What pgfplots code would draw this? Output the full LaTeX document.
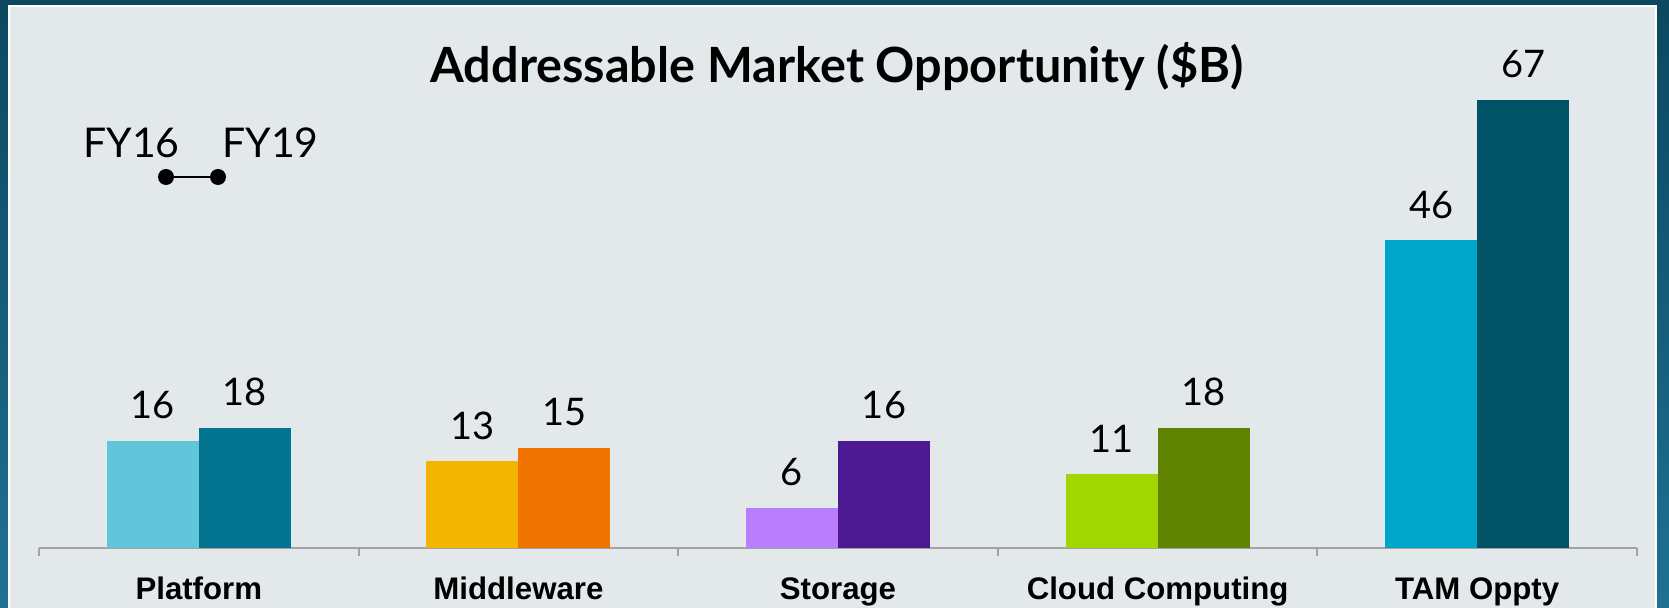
\documentclass[border=0pt]{standalone}
\usepackage{pgfplots}
\pgfplotsset{compat=1.18}
\usepackage{fontspec}
\setmainfont{Lato}
\newfontfamily\tickfont{Liberation Sans}
\definecolor{frameTop}{HTML}{0B4860}
\definecolor{frameBot}{HTML}{1F7192}
\definecolor{panel}{HTML}{E3E9EB}
\definecolor{axisgrey}{HTML}{A3A3A3}
\definecolor{platA}{HTML}{62C6DB}
\definecolor{platB}{HTML}{027490}
\definecolor{midA}{HTML}{F3B600}
\definecolor{midB}{HTML}{F07300}
\definecolor{stoA}{HTML}{B87EFB}
\definecolor{stoB}{HTML}{4E1A93}
\definecolor{cloA}{HTML}{A2D600}
\definecolor{cloB}{HTML}{5F8200}
\definecolor{tamA}{HTML}{00A6CA}
\definecolor{tamB}{HTML}{005266}
\begin{document}
\begin{tikzpicture}[x=1pt,y=1pt]
\useasboundingbox (0,0) rectangle (834.5,304);
\shade[top color=frameTop, bottom color=frameBot] (0,0) rectangle (834.5,304);
\fill[panel] (4,0) rectangle (828.5,301.5);
\draw[white, line width=0.8pt] (4.4,-1) -- (4.4,301.1) -- (828.1,301.1) -- (828.1,-1);
\node[anchor=base, font=\bfseries\fontsize{24.3}{24.3}\selectfont] at (418.5,262.5) {Addressable Market Opportunity (\$B)};
% legend
\node[anchor=base west, inner sep=0pt, font=\fontsize{20.5}{20.5}\selectfont] at (41.5,225) {FY16};
\node[anchor=base west, inner sep=0pt, font=\fontsize{20.5}{20.5}\selectfont] at (111,225) {FY19};
\draw[black, line width=0.8pt] (83,215.5) -- (109,215.5);
\fill[black] (83,215.5) circle (4);
\fill[black] (109,215.5) circle (4);
\begin{axis}[
  at={(19.5pt,30pt)}, anchor=south west,
  scale only axis, width=799pt, height=234.15pt,
  xmin=-0.5, xmax=4.5, ymin=0, ymax=70,
  axis x line*=bottom, axis y line=none,
  xtick={0,1,2,3,4},
  xticklabels={Platform,Middleware,Storage,Cloud Computing,TAM Oppty},
  major tick length=0pt,
  minor xtick={-0.5,0.5,1.5,2.5,3.5,4.5},
  minor tick length=4pt, tick align=outside,
  every minor tick/.append style={draw=axisgrey, line width=1pt},
  x axis line style={draw=axisgrey, line width=1pt},
  xticklabel style={font=\tickfont\bfseries\fontsize{15.6}{15.6}\selectfont, anchor=base, yshift=-26pt, inner sep=0pt},
  ybar, bar width=46pt, clip=false,
  /pgf/number format/assume math mode=true,
  nodes near coords,
  every node near coord/.append style={font=\fontsize{19}{19}\selectfont, anchor=base, inner sep=0pt, yshift=11pt, text=black},
]
\addplot[fill=platA, draw=none, bar shift=-23pt] coordinates {(0,16)};
\addplot[fill=platB, draw=none, bar shift=23pt] coordinates {(0,18)};
\addplot[fill=midA, draw=none, bar shift=-23pt] coordinates {(1,13)};
\addplot[fill=midB, draw=none, bar shift=23pt] coordinates {(1,15)};
\addplot[fill=stoA, draw=none, bar shift=-23pt] coordinates {(2,6)};
\addplot[fill=stoB, draw=none, bar shift=23pt] coordinates {(2,16)};
\addplot[fill=cloA, draw=none, bar shift=-23pt] coordinates {(3,11)};
\addplot[fill=cloB, draw=none, bar shift=23pt] coordinates {(3,18)};
\addplot[fill=tamA, draw=none, bar shift=-23pt] coordinates {(4,46)};
\addplot[fill=tamB, draw=none, bar shift=23pt] coordinates {(4,67)};
\end{axis}
\end{tikzpicture}
\end{document}
